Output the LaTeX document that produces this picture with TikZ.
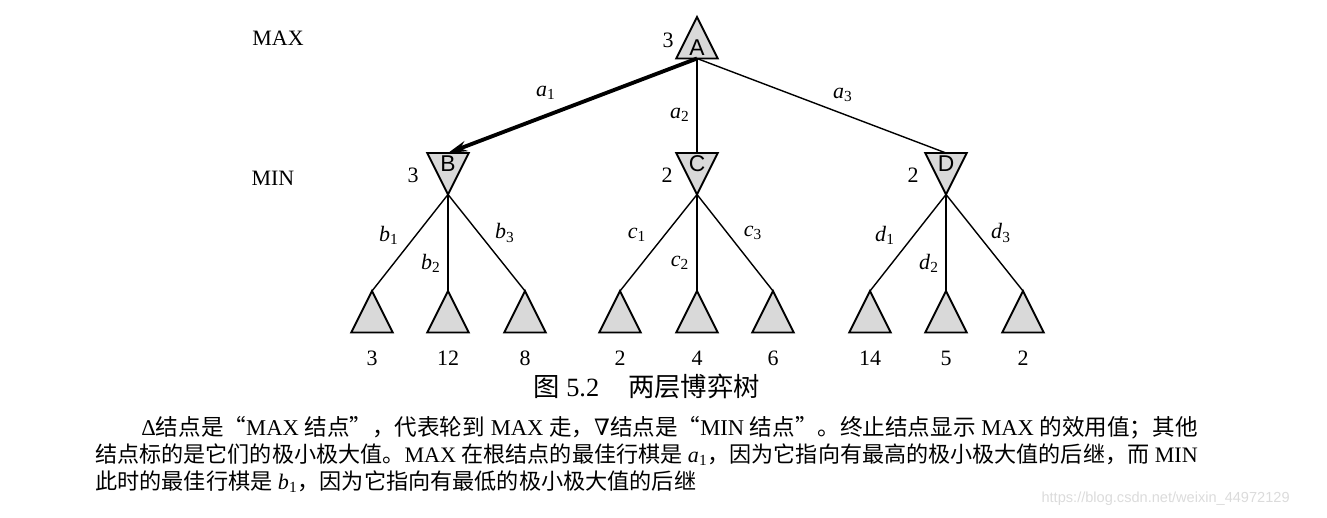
\documentclass[tikz,border=0pt]{standalone}
\usepackage{fontspec}
\setmainfont{Liberation Serif}
\newfontfamily\cjk{Noto Sans CJK SC}
\newfontfamily\symf{DejaVu Serif}
\newfontfamily\sansf{Liberation Sans}
\usetikzlibrary{shapes.geometric,arrows.meta}
\tikzset{
  tri/.style={isosceles triangle, isosceles triangle stretches, draw, line width=1.1pt,
    fill=black!15, inner sep=0pt, outer sep=0pt, minimum width=0.83cm, minimum height=0.83cm,
    font=\sansf\fontsize{13}{13}\selectfont},
  maxnode/.style={tri, shape border rotate=90},
  minnode/.style={tri, shape border rotate=270},
  leaf/.style={tri, shape border rotate=90},
  lbl/.style={font=\fontsize{12.5}{13}\selectfont, inner sep=0pt},
  body/.style={inner sep=0pt, anchor=west},
  edge/.style={line width=0.8pt},
}
\newcommand\mv[2]{\textit{#1}\textsubscript{#2}}
\begin{document}
\begin{tikzpicture}[x=0.02cm,y=-0.02cm]
\useasboundingbox (0,0) rectangle (1327,517);
\node[lbl] (max) at (278,38) {MAX};
\node[lbl] (min) at (273,178) {MIN};

\node[maxnode, anchor=apex] (A) at (697,17) {A};
\node[minnode, anchor=lower side] (B) at (448,153) {B};
\node[minnode, anchor=lower side] (C) at (697,153) {C};
\node[minnode, anchor=lower side] (D) at (946,153) {D};
\node[lbl] (vA) at (668,40) {3};
\node[lbl] (vB) at (413,175) {3};
\node[lbl] (vC) at (667,175) {2};
\node[lbl] (vD) at (913,175) {2};

% terminal nodes and their values
\foreach \x/\v [count=\i] in {372/3,448/12,525/8,620/2,697/4,773/6,870/14,946/5,1023/2} {
  \node[leaf, anchor=apex] (l\i) at (\x,291) {};
  \node[lbl] (v\i) at (\x,358) {\v};
}

\draw[line width=2.2pt, -{Stealth[length=11pt,width=6pt]}] (A.lower side) -- (B.lower side);
\draw[edge] (A.lower side) -- (C.lower side);
\draw[edge] (A.lower side) -- (D.lower side);
\foreach \p/\i in {B/1,B/2,B/3,C/4,C/5,C/6,D/7,D/8,D/9}
  \draw[edge] (\p.apex) -- (l\i.apex);

\node[lbl] (la1) at (546,93) {\mv{a}{1}};
\node[lbl] (la2) at (680,115) {\mv{a}{2}};
\node[lbl] (la3) at (843,95) {\mv{a}{3}};
\node[lbl] (lb1) at (389,235) {\mv{b}{1}};
\node[lbl] (lb2) at (431,263) {\mv{b}{2}};
\node[lbl] (lb3) at (505,233) {\mv{b}{3}};
\node[lbl] (lc1) at (637,235) {\mv{c}{1}};
\node[lbl] (lc2) at (680,263) {\mv{c}{2}};
\node[lbl] (lc3) at (753,233) {\mv{c}{3}};
\node[lbl] (ld1) at (885,235) {\mv{d}{1}};
\node[lbl] (ld2) at (929,263) {\mv{d}{2}};
\node[lbl] (ld3) at (1001,233) {\mv{d}{3}};

% caption and text
\node[font=\fontsize{15}{15}\selectfont, inner sep=0pt, anchor=west] (cap) at (533,386)
  {{\cjk 图} 5.2\hspace{1.1em}{\cjk 两层博弈树}};
\node[body, font=\fontsize{12.85}{16}\selectfont] (t1) at (141,428) {Δ{\cjk 结点是“}MAX {\cjk 结点”，代表轮到} MAX {\cjk 走，}{\symf ∇}{\cjk 结点是“}MIN {\cjk 结点”。终止结点显示} MAX {\cjk 的效用值；其他}};
\node[body, font=\fontsize{12.57}{16}\selectfont] (t2) at (95,455) {{\cjk 结点标的是它们的极小极大值。}MAX {\cjk 在根结点的最佳行棋是} \mv{a}{1}{\cjk ，因为它指向有最高的极小极大值的后继，而} MIN};
\node[body, font=\fontsize{12.6}{16}\selectfont] (t3) at (95,482) {{\cjk 此时的最佳行棋是} \mv{b}{1}{\cjk ，因为它指向有最低的极小极大值的后继}};
\node[font=\sansf\fontsize{8.3}{9}\selectfont, text=black!14, inner sep=0pt, anchor=east] (wm) at (1290,499) {https://blog.csdn.net/weixin\_44972129};
\end{tikzpicture}
\end{document}
